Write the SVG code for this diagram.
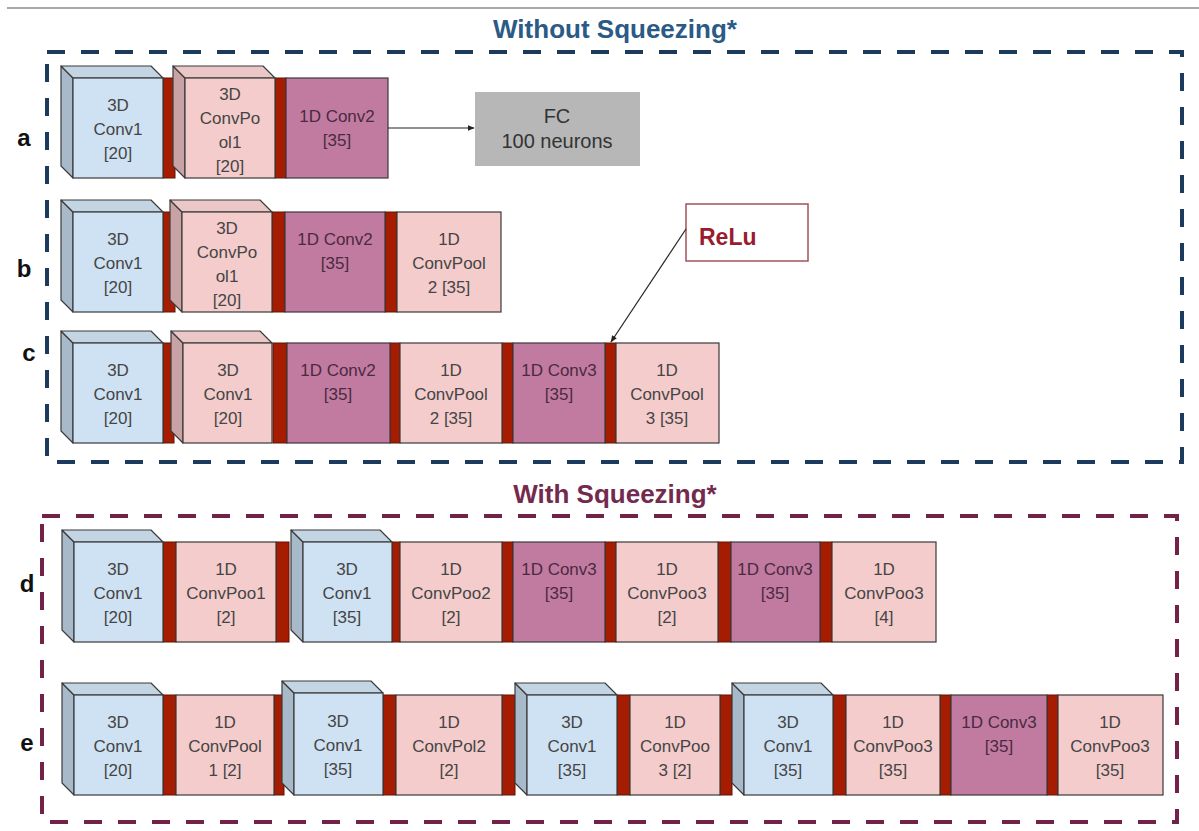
<svg xmlns="http://www.w3.org/2000/svg" width="1199" height="831" viewBox="0 0 1199 831">
  <defs>
    <style>
      .bf { fill:#CFE2F3; stroke:#3a3a3a; stroke-width:1.2; }
      .bs { fill:#A8B9C9; stroke:#3a3a3a; stroke-width:1.2; stroke-linejoin:round; }
      .bt { fill:#C3D4E3; stroke:#3a3a3a; stroke-width:1.2; stroke-linejoin:round; }
      .pf { fill:#F4CCCC; stroke:#3a3a3a; stroke-width:1.2; }
      .ps { fill:#C9A2A5; stroke:#3a3a3a; stroke-width:1.2; stroke-linejoin:round; }
      .pt { fill:#EBC7C7; stroke:#3a3a3a; stroke-width:1.2; stroke-linejoin:round; }
      .mf { fill:#C27BA0; stroke:#3a3a3a; stroke-width:1.2; }
      .sep { fill:#A61C00; stroke:#5E1208; stroke-width:1; }
      .t { font-family:"Liberation Sans", Arial, sans-serif; font-size:17px; fill:#454545; text-anchor:middle; }
      .tm { font-family:"Liberation Sans", Arial, sans-serif; font-size:17px; fill:#4A2A40; text-anchor:middle; }
      .row { font-family:"Liberation Sans", Arial, sans-serif; font-size:24px; font-weight:bold; fill:#111; text-anchor:middle; }
      .title { font-family:"Liberation Sans", Arial, sans-serif; font-size:26px; font-weight:bold; text-anchor:middle; }
      .fc { font-family:"Liberation Sans", Arial, sans-serif; font-size:20px; fill:#333; text-anchor:middle; }
      .conn { stroke:#222; stroke-width:1.2; fill:none; }
    </style>
    <marker id="arrow" viewBox="0 0 10 10" refX="9" refY="5" markerWidth="7" markerHeight="7" orient="auto" markerUnits="userSpaceOnUse">
      <path d="M0,1 L10,5 L0,9 z" fill="#222"/>
    </marker>
  </defs>

  <rect width="1199" height="831" fill="#ffffff"/>
  <line x1="7" y1="8" x2="1199" y2="8" stroke="#a8a8a8" stroke-width="2"/>

  <!-- section frames and titles -->
  <g id="frame-without">
    <rect x="47" y="52" width="1135" height="410" fill="none" stroke="#1B3A5C" stroke-width="4" stroke-dasharray="18 16"/>
    <text class="title" x="615" y="38" fill="#2A5A86">Without Squeezing*</text>
  </g>
  <g id="frame-with">
    <rect x="42" y="516" width="1135" height="306" fill="none" stroke="#722246" stroke-width="4" stroke-dasharray="18 16"/>
    <text class="title" x="615" y="503" fill="#74294F">With Squeezing*</text>
  </g>

  <!-- row labels -->
  <text class="row" x="24" y="146">a</text>
  <text class="row" x="24" y="277">b</text>
  <text class="row" x="29" y="361">c</text>
  <text class="row" x="27" y="592">d</text>
  <text class="row" x="27" y="751">e</text>

  <!-- row a -->
  <g id="a-sep1"><rect class="sep" x="163" y="78" width="12" height="100"/></g>
  <g id="a-sep2"><rect class="sep" x="275" y="78" width="11" height="100"/></g>
  <g id="a-conv3d1">
    <polygon class="bs" points="61,66 73,78 73,178 61,166"/>
    <polygon class="bt" points="61,66 151,66 163,78 73,78"/>
    <rect class="bf" x="73" y="78" width="90" height="100"/>
    <text class="t"><tspan x="118" y="111">3D</tspan><tspan x="118" y="135">Conv1</tspan><tspan x="118" y="159">[20]</tspan></text>
  </g>
  <g id="a-convpool3d1">
    <polygon class="ps" points="173,66 185,78 185,178 173,166"/>
    <polygon class="pt" points="173,66 263,66 275,78 185,78"/>
    <rect class="pf" x="185" y="78" width="90" height="100"/>
    <text class="t"><tspan x="230" y="100">3D</tspan><tspan x="230" y="124">ConvPo</tspan><tspan x="230" y="148">ol1</tspan><tspan x="230" y="172">[20]</tspan></text>
  </g>
  <g id="a-conv1d2">
    <rect class="mf" x="286" y="78" width="102" height="100"/>
    <text class="tm"><tspan x="337" y="122">1D Conv2</tspan><tspan x="337" y="146">[35]</tspan></text>
  </g>
  <g id="a-fc">
    <rect x="475" y="92" width="165" height="74" fill="#B7B7B7"/>
    <text class="fc"><tspan x="557" y="123">FC</tspan><tspan x="557" y="148">100 neurons</tspan></text>
  </g>

  <!-- row b -->
  <g id="b-sep1"><rect class="sep" x="163" y="212" width="12" height="100"/></g>
  <g id="b-sep2"><rect class="sep" x="272" y="212" width="13" height="100"/></g>
  <g id="b-sep3"><rect class="sep" x="385" y="212" width="12" height="100"/></g>
  <g id="b-conv3d1">
    <polygon class="bs" points="61,200 73,212 73,312 61,300"/>
    <polygon class="bt" points="61,200 151,200 163,212 73,212"/>
    <rect class="bf" x="73" y="212" width="90" height="100"/>
    <text class="t"><tspan x="118" y="245">3D</tspan><tspan x="118" y="269">Conv1</tspan><tspan x="118" y="293">[20]</tspan></text>
  </g>
  <g id="b-convpool3d1">
    <polygon class="ps" points="170,200 182,212 182,312 170,300"/>
    <polygon class="pt" points="170,200 260,200 272,212 182,212"/>
    <rect class="pf" x="182" y="212" width="90" height="100"/>
    <text class="t"><tspan x="227" y="234">3D</tspan><tspan x="227" y="258">ConvPo</tspan><tspan x="227" y="282">ol1</tspan><tspan x="227" y="306">[20]</tspan></text>
  </g>
  <g id="b-conv1d2">
    <rect class="mf" x="285" y="212" width="100" height="100"/>
    <text class="tm"><tspan x="335" y="245">1D Conv2</tspan><tspan x="335" y="269">[35]</tspan></text>
  </g>
  <g id="b-convpool1d2">
    <rect class="pf" x="397" y="212" width="104" height="100"/>
    <text class="t"><tspan x="449" y="245">1D</tspan><tspan x="449" y="269">ConvPool</tspan><tspan x="449" y="293">2 [35]</tspan></text>
  </g>

  <!-- row c -->
  <g id="c-sep1"><rect class="sep" x="163" y="343" width="11" height="100"/></g>
  <g id="c-sep2"><rect class="sep" x="273" y="343" width="14" height="100"/></g>
  <g id="c-sep3"><rect class="sep" x="390" y="343" width="10" height="100"/></g>
  <g id="c-sep4"><rect class="sep" x="502" y="343" width="11" height="100"/></g>
  <g id="c-sep5"><rect class="sep" x="605" y="343" width="11" height="100"/></g>
  <g id="c-conv3d1">
    <polygon class="bs" points="61,331 73,343 73,443 61,431"/>
    <polygon class="bt" points="61,331 151,331 163,343 73,343"/>
    <rect class="bf" x="73" y="343" width="90" height="100"/>
    <text class="t"><tspan x="118" y="376">3D</tspan><tspan x="118" y="400">Conv1</tspan><tspan x="118" y="424">[20]</tspan></text>
  </g>
  <g id="c-conv3d1b">
    <polygon class="ps" points="171,331 183,343 183,443 171,431"/>
    <polygon class="pt" points="171,331 260,331 272,343 183,343"/>
    <rect class="pf" x="183" y="343" width="89" height="100"/>
    <text class="t"><tspan x="228" y="376">3D</tspan><tspan x="228" y="400">Conv1</tspan><tspan x="228" y="424">[20]</tspan></text>
  </g>
  <g id="c-conv1d2">
    <rect class="mf" x="287" y="343" width="103" height="100"/>
    <text class="tm"><tspan x="338" y="376">1D Conv2</tspan><tspan x="338" y="400">[35]</tspan></text>
  </g>
  <g id="c-convpool1d2">
    <rect class="pf" x="400" y="343" width="102" height="100"/>
    <text class="t"><tspan x="451" y="376">1D</tspan><tspan x="451" y="400">ConvPool</tspan><tspan x="451" y="424">2 [35]</tspan></text>
  </g>
  <g id="c-conv1d3">
    <rect class="mf" x="513" y="343" width="92" height="100"/>
    <text class="tm"><tspan x="559" y="376">1D Conv3</tspan><tspan x="559" y="400">[35]</tspan></text>
  </g>
  <g id="c-convpool1d3">
    <rect class="pf" x="616" y="343" width="103" height="100"/>
    <text class="t"><tspan x="667" y="376">1D</tspan><tspan x="667" y="400">ConvPool</tspan><tspan x="667" y="424">3 [35]</tspan></text>
  </g>
  <g id="relu">
    <rect x="686" y="204" width="122" height="57" fill="#ffffff" stroke="#A5505C" stroke-width="1.5"/>
    <text x="699" y="245" font-family="'Liberation Sans', Arial, sans-serif" font-size="23" font-weight="bold" fill="#9A1B2E">ReLu</text>
  </g>

  <!-- row d -->
  <g id="d-sep1"><rect class="sep" x="163" y="542" width="13" height="100"/></g>
  <g id="d-sep2"><rect class="sep" x="276" y="542" width="13" height="100"/></g>
  <g id="d-sep3"><rect class="sep" x="392" y="542" width="8" height="100"/></g>
  <g id="d-sep4"><rect class="sep" x="502" y="542" width="11" height="100"/></g>
  <g id="d-sep5"><rect class="sep" x="605" y="542" width="11" height="100"/></g>
  <g id="d-sep6"><rect class="sep" x="718" y="542" width="13" height="100"/></g>
  <g id="d-sep7"><rect class="sep" x="820" y="542" width="12" height="100"/></g>
  <g id="d-conv3d1">
    <polygon class="bs" points="62,530 74,542 74,642 62,630"/>
    <polygon class="bt" points="62,530 151,530 163,542 74,542"/>
    <rect class="bf" x="74" y="542" width="89" height="100"/>
    <text class="t"><tspan x="118" y="575">3D</tspan><tspan x="118" y="599">Conv1</tspan><tspan x="118" y="623">[20]</tspan></text>
  </g>
  <g id="d-convpool1">
    <rect class="pf" x="176" y="542" width="100" height="100"/>
    <text class="t"><tspan x="226" y="575">1D</tspan><tspan x="226" y="599">ConvPoo1</tspan><tspan x="226" y="623">[2]</tspan></text>
  </g>
  <g id="d-conv3d2">
    <polygon class="bs" points="291,530 303,542 303,642 291,630"/>
    <polygon class="bt" points="291,530 380,530 392,542 303,542"/>
    <rect class="bf" x="303" y="542" width="89" height="100"/>
    <text class="t"><tspan x="347" y="575">3D</tspan><tspan x="347" y="599">Conv1</tspan><tspan x="347" y="623">[35]</tspan></text>
  </g>
  <g id="d-convpool2">
    <rect class="pf" x="400" y="542" width="102" height="100"/>
    <text class="t"><tspan x="451" y="575">1D</tspan><tspan x="451" y="599">ConvPoo2</tspan><tspan x="451" y="623">[2]</tspan></text>
  </g>
  <g id="d-conv1d3">
    <rect class="mf" x="513" y="542" width="92" height="100"/>
    <text class="tm"><tspan x="559" y="575">1D Conv3</tspan><tspan x="559" y="599">[35]</tspan></text>
  </g>
  <g id="d-convpool3">
    <rect class="pf" x="616" y="542" width="102" height="100"/>
    <text class="t"><tspan x="667" y="575">1D</tspan><tspan x="667" y="599">ConvPoo3</tspan><tspan x="667" y="623">[2]</tspan></text>
  </g>
  <g id="d-conv1d3b">
    <rect class="mf" x="731" y="542" width="89" height="100"/>
    <text class="tm"><tspan x="775" y="575">1D Conv3</tspan><tspan x="775" y="599">[35]</tspan></text>
  </g>
  <g id="d-convpool3b">
    <rect class="pf" x="832" y="542" width="104" height="100"/>
    <text class="t"><tspan x="884" y="575">1D</tspan><tspan x="884" y="599">ConvPoo3</tspan><tspan x="884" y="623">[4]</tspan></text>
  </g>

  <!-- row e -->
  <g id="e-sep1"><rect class="sep" x="163" y="695" width="13" height="100"/></g>
  <g id="e-sep2"><rect class="sep" x="274" y="695" width="10" height="100"/></g>
  <g id="e-sep3"><rect class="sep" x="383" y="695" width="13" height="100"/></g>
  <g id="e-sep4"><rect class="sep" x="502" y="695" width="13" height="100"/></g>
  <g id="e-sep5"><rect class="sep" x="617" y="695" width="13" height="100"/></g>
  <g id="e-sep6"><rect class="sep" x="720" y="695" width="12" height="100"/></g>
  <g id="e-sep7"><rect class="sep" x="833" y="695" width="13" height="100"/></g>
  <g id="e-sep8"><rect class="sep" x="940" y="695" width="11" height="100"/></g>
  <g id="e-sep9"><rect class="sep" x="1047" y="695" width="11" height="100"/></g>
  <g id="e-conv3d1">
    <polygon class="bs" points="62,683 74,695 74,795 62,783"/>
    <polygon class="bt" points="62,683 151,683 163,695 74,695"/>
    <rect class="bf" x="74" y="695" width="89" height="100"/>
    <text class="t"><tspan x="118" y="728">3D</tspan><tspan x="118" y="752">Conv1</tspan><tspan x="118" y="776">[20]</tspan></text>
  </g>
  <g id="e-convpool1">
    <rect class="pf" x="176" y="695" width="98" height="100"/>
    <text class="t"><tspan x="225" y="728">1D</tspan><tspan x="225" y="752">ConvPool</tspan><tspan x="225" y="776">1 [2]</tspan></text>
  </g>
  <g id="e-conv3d2">
    <polygon class="bs" points="282,681 294,693 294,795 282,783"/>
    <polygon class="bt" points="282,681 371,681 383,693 294,693"/>
    <rect class="bf" x="294" y="693" width="89" height="102"/>
    <text class="t"><tspan x="338" y="727">3D</tspan><tspan x="338" y="751">Conv1</tspan><tspan x="338" y="775">[35]</tspan></text>
  </g>
  <g id="e-convpool2">
    <rect class="pf" x="396" y="695" width="106" height="100"/>
    <text class="t"><tspan x="449" y="728">1D</tspan><tspan x="449" y="752">ConvPol2</tspan><tspan x="449" y="776">[2]</tspan></text>
  </g>
  <g id="e-conv3d3">
    <polygon class="bs" points="515,683 527,695 527,795 515,783"/>
    <polygon class="bt" points="515,683 605,683 617,695 527,695"/>
    <rect class="bf" x="527" y="695" width="90" height="100"/>
    <text class="t"><tspan x="572" y="728">3D</tspan><tspan x="572" y="752">Conv1</tspan><tspan x="572" y="776">[35]</tspan></text>
  </g>
  <g id="e-convpool3">
    <rect class="pf" x="630" y="695" width="90" height="100"/>
    <text class="t"><tspan x="675" y="728">1D</tspan><tspan x="675" y="752">ConvPoo</tspan><tspan x="675" y="776">3 [2]</tspan></text>
  </g>
  <g id="e-conv3d4">
    <polygon class="bs" points="732,683 744,695 744,795 732,783"/>
    <polygon class="bt" points="732,683 821,683 833,695 744,695"/>
    <rect class="bf" x="744" y="695" width="89" height="100"/>
    <text class="t"><tspan x="788" y="728">3D</tspan><tspan x="788" y="752">Conv1</tspan><tspan x="788" y="776">[35]</tspan></text>
  </g>
  <g id="e-convpool4">
    <rect class="pf" x="846" y="695" width="94" height="100"/>
    <text class="t"><tspan x="893" y="728">1D</tspan><tspan x="893" y="752">ConvPoo3</tspan><tspan x="893" y="776">[35]</tspan></text>
  </g>
  <g id="e-conv1d3">
    <rect class="mf" x="951" y="695" width="96" height="100"/>
    <text class="tm"><tspan x="999" y="728">1D Conv3</tspan><tspan x="999" y="752">[35]</tspan></text>
  </g>
  <g id="e-convpool5">
    <rect class="pf" x="1058" y="695" width="105" height="100"/>
    <text class="t"><tspan x="1110" y="728">1D</tspan><tspan x="1110" y="752">ConvPoo3</tspan><tspan x="1110" y="776">[35]</tspan></text>
  </g>

  <!-- connectors -->
  <g id="connectors">
    <line class="conn" x1="388" y1="128" x2="474" y2="128" marker-end="url(#arrow)"/>
    <line class="conn" x1="686" y1="229" x2="611" y2="342" marker-end="url(#arrow)"/>
  </g>
</svg>
